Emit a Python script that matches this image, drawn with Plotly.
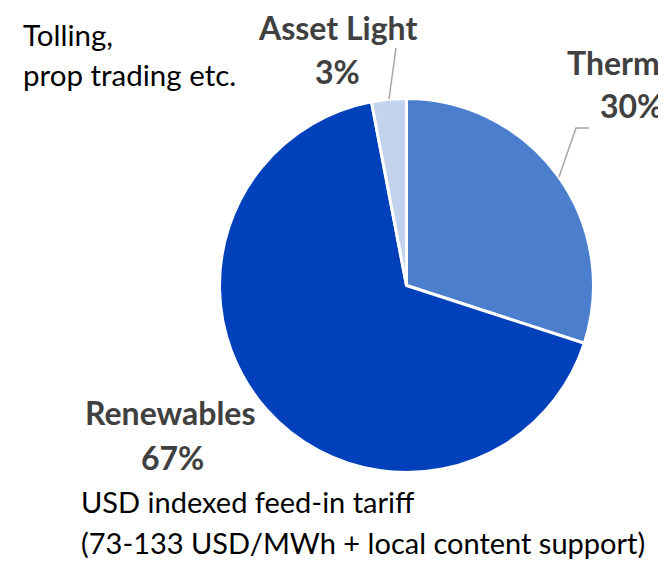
import plotly.graph_objects as go

# la página deja 8px de margen en el body: la figura visible empieza en (8, 8)
OFF = 8
W, H = 666 - OFF, 562 - OFF

segmentos = ['Therm', 'Renewables', 'Asset Light']
valores = [30, 67, 3]
colores = ['#4B7ECD', '#0040BA', '#C3D3EE']
etiquetas_pct = ['30%', '67%', '3%']

GRIS = '#404040'
FUENTE = 'Lato, Calibri, sans-serif'


def px(x, y):
    # pixel de la referencia -> coords paper
    return (x - OFF) / W, 1 - (y - OFF) / H


# centro y radio del pastel (pixeles de la referencia)
cx, cy, r = 406.5, 285.5, 187

x0, y0 = px(cx - r, cy + r)
x1, y1 = px(cx + r, cy - r)

fig = go.Figure(go.Pie(
    labels=segmentos, values=valores, sort=False,
    direction='clockwise', rotation=0,
    marker=dict(colors=colores, line=dict(color='white', width=3)),
    textinfo='none', hoverinfo='label+percent', showlegend=False,
    domain=dict(x=[x0, x1], y=[y0, y1]),
))

anot = []


def texto(t, x, y, bold=False, anchor='center', color=GRIS, size=32):
    xp, yp = px(x, y)
    anot.append(dict(
        text=f'<b>{t}</b>' if bold else t, x=xp, y=yp, xref='paper', yref='paper',
        xanchor=anchor, yanchor='middle', showarrow=False,
        font=dict(family=FUENTE, size=size, color=color),
    ))


texto(segmentos[2], 337, 28, bold=True)
texto(etiquetas_pct[2], 337, 72, bold=True)
texto(segmentos[0], 565, 62, bold=True, anchor='left')
texto(etiquetas_pct[0], 631, 106, bold=True)
texto(segmentos[1], 170, 412, bold=True)
texto(etiquetas_pct[1], 172, 457, bold=True)
texto('Tolling,', 21, 34, anchor='left', color='black', size=29.5)
texto('prop trading etc.', 21, 74, anchor='left', color='black', size=29.5)
texto('USD indexed feed-in tariff', 79, 501, anchor='left', color='black', size=29)
texto('(73-133 USD/MWh + local content support)', 79, 542, anchor='left', color='black', size=29)

lineas = []


def linea(puntos):
    path = 'M ' + ' L '.join(f'{px(x, y)[0]},{px(x, y)[1]}' for x, y in puntos)
    lineas.append(dict(type='path', path=path, xref='paper', yref='paper',
                       line=dict(color='#A6A6A6', width=1.5)))


linea([(389, 99), (396, 48)])
linea([(559, 177), (576, 128), (589, 128)])

fig.update_layout(
    width=W, height=H,
    margin=dict(l=0, r=0, t=0, b=0),
    paper_bgcolor='white', plot_bgcolor='white',
    annotations=anot, shapes=lineas,
)

fig.write_html('out.html')
